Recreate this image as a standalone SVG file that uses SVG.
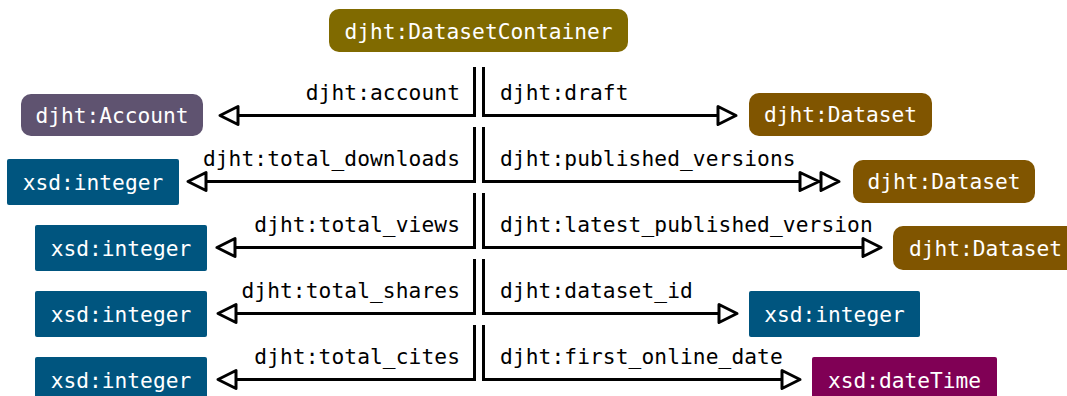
<svg xmlns="http://www.w3.org/2000/svg" width="1067" height="396" viewBox="0 0 1067 396">
  <style>
    text { font-family: "DejaVu Sans Mono", "Liberation Mono", monospace; font-size: 21.2px; }
    .lbl { fill: #000000; }
    .nt { fill: #ffffff; text-anchor: middle; }
    .edge { fill: none; stroke: #000000; stroke-width: 3; stroke-linejoin: miter; }
    .cls-container { fill: #806a00; }
    .cls-account { fill: #5f5370; }
    .cls-dataset { fill: #805500; }
    .cls-integer { fill: #00557f; }
    .cls-datetime { fill: #800055; }
  </style>
  <defs>
    <marker id="open" markerUnits="userSpaceOnUse" viewBox="-3 -12 26 24" markerWidth="26" markerHeight="24" refX="0" refY="0" orient="auto" overflow="visible">
      <path d="M0,-9 L18,0 L0,9 Z" fill="#ffffff" stroke="#000000" stroke-width="3" stroke-linejoin="round"/>
    </marker>
    <marker id="open2" markerUnits="userSpaceOnUse" viewBox="-3 -12 46 24" markerWidth="46" markerHeight="24" refX="0" refY="0" orient="auto" overflow="visible">
      <path d="M0,-9 L19,0 L0,9 Z M21,-9 L39,0 L21,9 Z" fill="#ffffff" stroke="#000000" stroke-width="3" stroke-linejoin="round"/>
    </marker>
  </defs>

  <!-- connectors -->
  <g id="edges">
    <path class="edge" d="M474.5,67 V115.5 H238" marker-end="url(#open)"/>
    <path class="edge" d="M474.5,127 V181.5 H206" marker-end="url(#open)"/>
    <path class="edge" d="M474.5,193 V247.5 H235" marker-end="url(#open)"/>
    <path class="edge" d="M474.5,259 V313.5 H236" marker-end="url(#open)"/>
    <path class="edge" d="M474.5,325 V379.5 H236" marker-end="url(#open)"/>

    <path class="edge" d="M483.5,67 V115.5 H718" marker-end="url(#open)"/>
    <path class="edge" d="M483.5,127 V181.5 H800" marker-end="url(#open2)"/>
    <path class="edge" d="M483.5,193 V247.5 H863" marker-end="url(#open)"/>
    <path class="edge" d="M483.5,259 V313.5 H719" marker-end="url(#open)"/>
    <path class="edge" d="M483.5,325 V379.5 H782" marker-end="url(#open)"/>

    <text class="lbl" x="460" y="99.5" text-anchor="end" letter-spacing="0.1">djht:account</text>
    <text class="lbl" x="460" y="165.5" text-anchor="end" letter-spacing="0.1">djht:total_downloads</text>
    <text class="lbl" x="460" y="231.5" text-anchor="end" letter-spacing="0.1">djht:total_views</text>
    <text class="lbl" x="460" y="297.5" text-anchor="end" letter-spacing="0.1">djht:total_shares</text>
    <text class="lbl" x="460" y="363.5" text-anchor="end" letter-spacing="0.1">djht:total_cites</text>

    <text class="lbl" x="500" y="99.5" letter-spacing="0.1">djht:draft</text>
    <text class="lbl" x="500" y="165.5" letter-spacing="0.1">djht:published_versions</text>
    <text class="lbl" x="500" y="231.5" letter-spacing="0.1">djht:latest_published_version</text>
    <text class="lbl" x="500" y="297.5" letter-spacing="0.1">djht:dataset_id</text>
    <text class="lbl" x="500" y="363.5" letter-spacing="0.1">djht:first_online_date</text>
  </g>

  <!-- nodes -->
  <g id="container">
    <rect class="cls-container" x="329" y="9" width="299" height="43" rx="10"/>
    <text class="nt" x="478.5" y="38.5">djht:DatasetContainer</text>
  </g>
  <g id="account">
    <rect class="cls-account" x="21" y="94" width="182" height="42" rx="10"/>
    <text class="nt" x="112" y="122.5">djht:Account</text>
  </g>
  <g id="total-downloads">
    <rect class="cls-integer" x="7" y="159" width="172" height="46" rx="2"/>
    <text class="nt" x="93" y="189.5">xsd:integer</text>
  </g>
  <g id="total-views">
    <rect class="cls-integer" x="35" y="225" width="172" height="46" rx="2"/>
    <text class="nt" x="121" y="255.5">xsd:integer</text>
  </g>
  <g id="total-shares">
    <rect class="cls-integer" x="35" y="291" width="172" height="46" rx="2"/>
    <text class="nt" x="121" y="321.5">xsd:integer</text>
  </g>
  <g id="total-cites">
    <rect class="cls-integer" x="35" y="357" width="172" height="46" rx="2"/>
    <text class="nt" x="121" y="387.5">xsd:integer</text>
  </g>
  <g id="draft">
    <rect class="cls-dataset" x="749" y="93" width="183" height="43" rx="10"/>
    <text class="nt" x="840.5" y="122">djht:Dataset</text>
  </g>
  <g id="published-versions">
    <rect class="cls-dataset" x="853" y="160" width="182" height="43" rx="10"/>
    <text class="nt" x="944" y="189">djht:Dataset</text>
  </g>
  <g id="latest-published-version">
    <rect class="cls-dataset" x="893" y="226" width="185" height="44" rx="10"/>
    <text class="nt" x="985.5" y="255.5">djht:Dataset</text>
  </g>
  <g id="dataset-id">
    <rect class="cls-integer" x="749" y="291" width="171" height="46" rx="2"/>
    <text class="nt" x="834.5" y="321.5">xsd:integer</text>
  </g>
  <g id="first-online-date">
    <rect class="cls-datetime" x="812" y="357" width="185" height="46" rx="2"/>
    <text class="nt" x="904.5" y="387.5">xsd:dateTime</text>
  </g>
</svg>
